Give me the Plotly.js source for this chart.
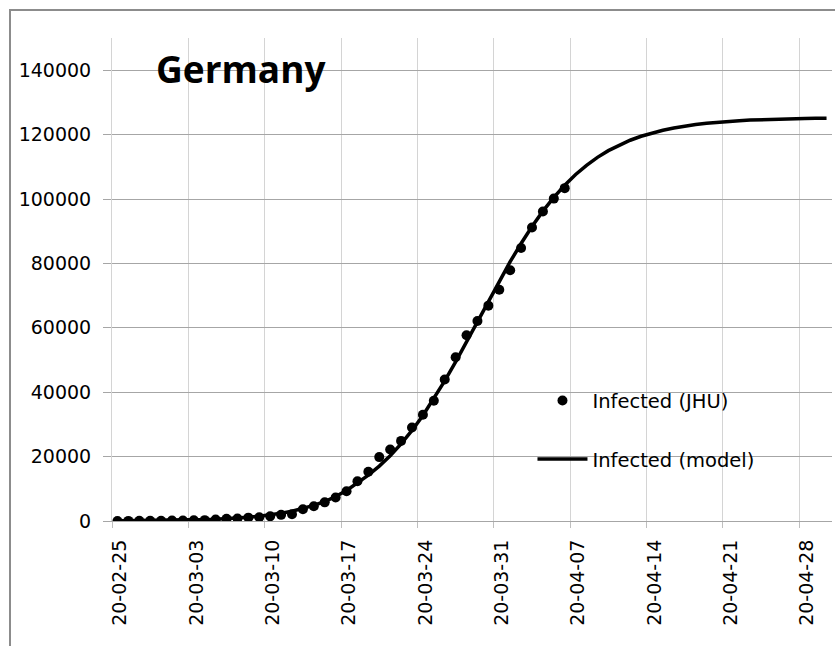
<!DOCTYPE html>
<html><head><meta charset="utf-8">
<script src="https://cdn.plot.ly/plotly-3.0.1.min.js"></script>
<style>
html,body{margin:0;padding:0;background:#fff;overflow:hidden}
#chart{width:835px;height:646px;position:absolute;left:0;top:0}
#frame{position:absolute;left:9px;top:9px;width:900px;height:800px;border-left:2px solid #8c8c8c;border-top:2px solid #8c8c8c;pointer-events:none}
</style></head><body>
<div id="chart"></div><div id="frame"></div>
<script>
const startDate = '2020-02-25';
const chartTitle = 'Germany';
const seriesNames = ['Infected (JHU)', 'Infected (model)'];
// JHU confirmed cases, daily from 2020-02-25 to 2020-04-06
const jhuInfected = [17, 27, 46, 48, 79, 130, 159, 196, 262, 482, 670, 799, 1040, 1176, 1457, 1908, 2078, 3675, 4585, 5795, 7272, 9257, 12327, 15320, 19848, 22213, 24873, 29056, 32986, 37323, 43938, 50871, 57695, 62095, 66885, 71808, 77872, 84794, 91159, 96092, 100123, 103374];
// model curve, daily from 2020-02-25 to 2020-04-30
const modelInfected = [58, 75, 96, 124, 160, 205, 265, 340, 435, 560, 720, 920, 1180, 1500, 1900, 2400, 3050, 3850, 4850, 6050, 7600, 9500, 11800, 14267, 17041, 20255, 23944, 28120, 32793, 37946, 43522, 49448, 55640, 61968, 68321, 74539, 80527, 86176, 91460, 96237, 100502, 104282, 107600, 110464, 112924, 115018, 116776, 118252, 119481, 120515, 121368, 122065, 122651, 123133, 123521, 123845, 124110, 124327, 124504, 124649, 124768, 124866, 124945, 125010, 125064, 125107];
const axisStart = '2020-02-25';
const axisEnd = '2020-05-01';

function dayList(start, n) {
  const out = [];
  const t0 = Date.parse(start + 'T12:00:00Z');
  for (let i = 0; i < n; i++) {
    const d = new Date(t0 + i * 86400000);
    out.push(d.toISOString().slice(0, 10) + ' 12:00');
  }
  return out;
}

const fontFam = '"DejaVu Sans", sans-serif';
const traces = [
  {
    x: dayList(startDate, jhuInfected.length), y: jhuInfected,
    name: seriesNames[0], type: 'scatter', mode: 'markers',
    marker: {color: '#000', size: 10},
    legendgroup: 'a'
  },
  {
    x: dayList(startDate, modelInfected.length), y: modelInfected,
    name: seriesNames[1], type: 'scatter', mode: 'lines',
    line: {color: '#000', width: 3.5},
    legendgroup: 'b'
  }
];

const layout = {
  width: 835, height: 646,
  margin: {l: 112, r: 3, t: 38, b: 125},
  paper_bgcolor: '#fff', plot_bgcolor: '#fff',
  showlegend: true,
  legend: {
    x: 0.584, y: 0.289, xanchor: 'left', yanchor: 'top',
    bgcolor: 'rgba(0,0,0,0)', traceorder: 'grouped', tracegroupgap: 30,
    itemwidth: 50,
    font: {family: fontFam, size: 19.5, color: '#000'}
  },
  xaxis: {
    type: 'date', range: [axisStart, axisEnd],
    tick0: axisStart, dtick: 7 * 86400000,
    tickformat: '%y-%m-%d', tickangle: -90,
    showgrid: true, gridcolor: '#d4d4d4', gridwidth: 1,
    showline: true, linecolor: '#a6a6a6', linewidth: 1,
    ticks: 'outside', ticklen: 6, tickcolor: '#bfbfbf',
    ticklabelshift: 8, ticklabelstandoff: 4,
    tickfont: {family: fontFam, size: 19, color: '#000'},
    zeroline: false, fixedrange: true
  },
  yaxis: {
    range: [0, 150000], dtick: 20000, tick0: 0,
    showgrid: true, gridcolor: '#a6a6a6', gridwidth: 1,
    showline: true, linecolor: '#d4d4d4', linewidth: 1,
    ticks: 'outside', ticklen: 8, tickcolor: '#a6a6a6',
    ticklabelstandoff: 8,
    tickformat: 'd',
    tickfont: {family: fontFam, size: 19, color: '#000'},
    zeroline: false, fixedrange: true
  },
  annotations: [{
    text: '<b>' + chartTitle + '</b>', xref: 'paper', yref: 'paper',
    x: 0.059, y: 0.9375, xanchor: 'left', yanchor: 'middle', showarrow: false,
    font: {family: '"Open Sans", sans-serif', size: 37, color: '#000'}
  }]
};

Plotly.newPlot('chart', traces, layout, {staticPlot: true});
</script>
</body></html>
